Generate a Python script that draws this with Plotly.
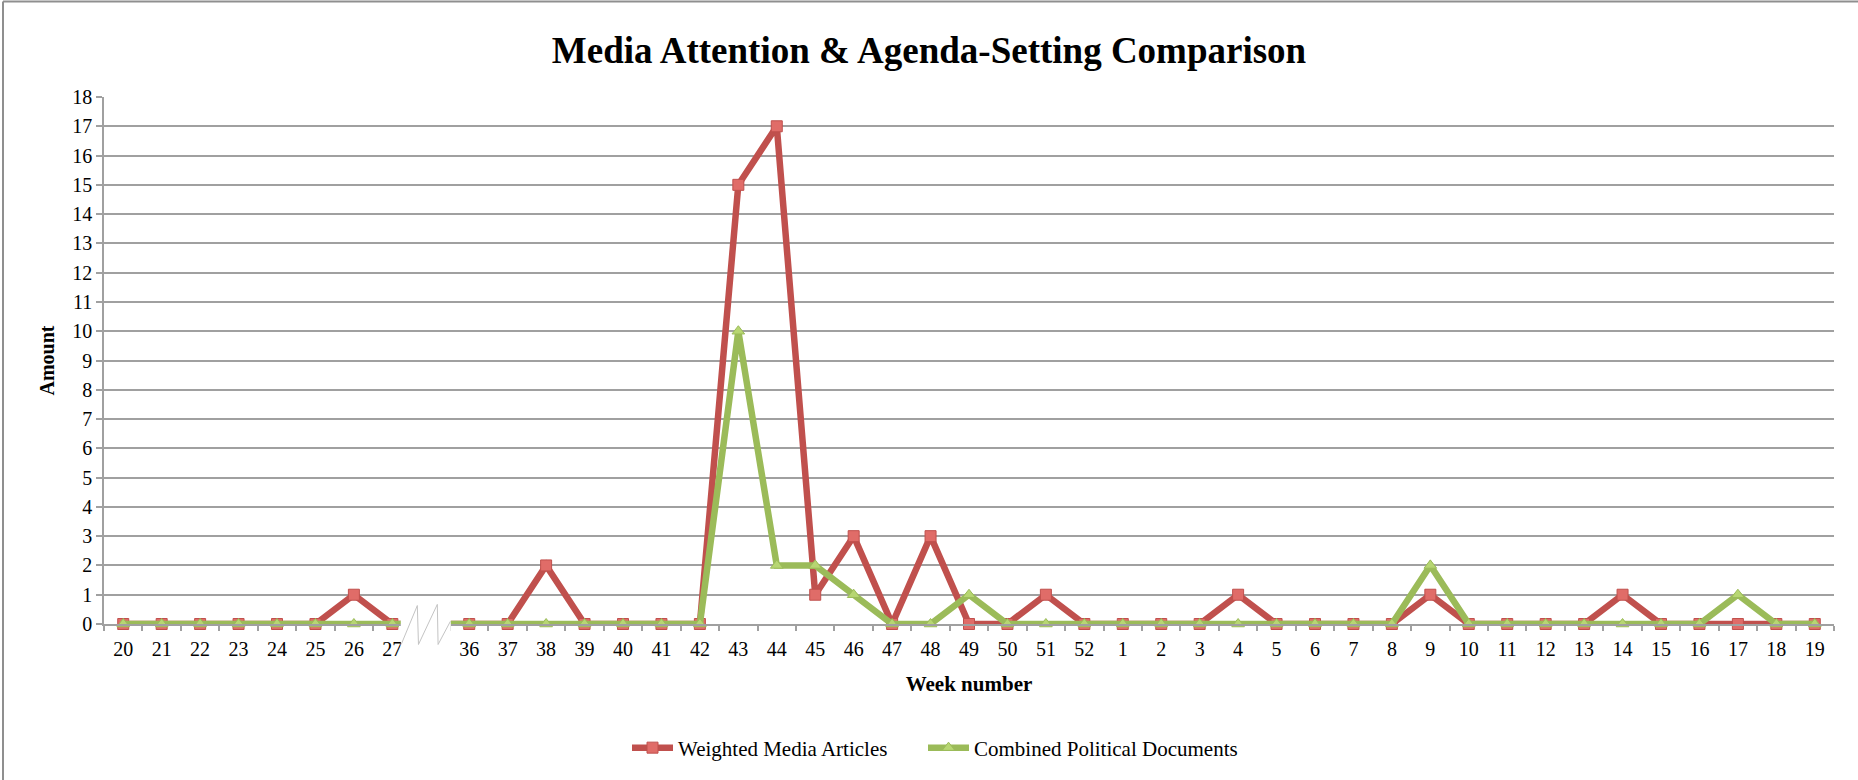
import plotly.graph_objects as go

# Week labels: weeks 20-27, a broken-axis slot, then weeks 36-52 and 1-19
weeks_early = ["20", "21", "22", "23", "24", "25", "26", "27"]
weeks_break = [" "]
weeks_late = ["36", "37", "38", "39", "40", "41", "42", "43", "44", "45",
              "46", "47", "48", "49", "50", "51", "52"]
weeks_next = ["1", "2", "3", "4", "5", "6", "7", "8", "9", "10",
              "11", "12", "13", "14", "15", "16", "17", "18", "19"]
weeks = weeks_early + weeks_break + weeks_late + weeks_next

media_early = [0, 0, 0, 0, 0, 0, 1, 0]
media_late = [0, 0, 2, 0, 0, 0, 0, 15, 17, 1, 3, 0, 3, 0, 0, 1, 0]
media_next = [0, 0, 0, 1, 0, 0, 0, 0, 1, 0, 0, 0, 0, 1, 0, 0, 0, 0, 0]

political_early = [0, 0, 0, 0, 0, 0, 0, 0]
political_late = [0, 0, 0, 0, 0, 0, 0, 10, 2, 2, 1, 0, 0, 1, 0, 0, 0]
political_next = [0, 0, 0, 0, 0, 0, 0, 0, 2, 0, 0, 0, 0, 0, 0, 0, 1, 0, 0]

media = media_early + [None] + media_late + media_next
political = political_early + [None] + political_late + political_next

W, H = 1858, 780
ML, MR, MT, MB = 104, 24, 97, 156
PW, PH = W - ML - MR, H - MT - MB
N = len(weeks)
YMAX = 18

FONT = "Liberation Serif, Times New Roman, serif"
GRID = "#a0a0a0"
RED, RED_FILL = "#c0504d", "#e06c68"
GREEN, GREEN_FILL = "#9bbb59", "#b7d672"

fig = go.Figure()
fig.add_trace(go.Scatter(
    x=weeks, y=media, name="Weighted Media Articles", legend="legend",
    mode="lines+markers", connectgaps=True, cliponaxis=False,
    line=dict(color=RED, width=6.5),
    marker=dict(symbol="square", size=11, color=RED_FILL,
                line=dict(color=RED, width=1)),
))
fig.add_trace(go.Scatter(
    x=weeks, y=political, name="Combined Political Documents",
    legend="legend2",
    mode="lines+markers", connectgaps=True, cliponaxis=False,
    line=dict(color=GREEN, width=6.5),
    marker=dict(symbol="triangle-up", size=11, color=GREEN_FILL,
                line=dict(color=GREEN, width=1)),
))


def px_x(idx):
    # category index -> paper x
    return (idx + 0.5) / N


def px_y(val):
    # value -> paper y
    return val / YMAX


def pix_x(px):
    # screen pixel -> paper x
    return (px - ML) / PW


def pix_y(py):
    # screen pixel -> paper y
    return (H - MB - py) / PH


gap = weeks.index(" ")
shapes = [
    # white patch hiding the lines across the axis break
    dict(type="rect", xref="paper", yref="paper", layer="above",
         x0=px_x(gap - 0.78), x1=px_x(gap + 0.52),
         y0=px_y(-0.8), y1=px_y(0.72),
         fillcolor="white", line=dict(width=0)),
    # zigzag break mark
    dict(type="path", xref="paper", yref="paper", layer="above",
         path="M {} {} L {} {} L {} {} L {} {} L {} {} L {} {}".format(
             px_x(gap - 0.77), px_y(-0.7),
             px_x(gap - 0.35), px_y(0.63),
             px_x(gap - 0.32), px_y(-0.7),
             px_x(gap + 0.17), px_y(0.67),
             px_x(gap + 0.19), px_y(-0.7),
             px_x(gap + 0.51), px_y(0.09)),
         line=dict(color="#c4c4c4", width=1)),
    # chart frame: left and top edges
    dict(type="line", xref="paper", yref="paper", layer="below",
         x0=pix_x(3), x1=pix_x(3), y0=pix_y(1.5), y1=pix_y(H + 5),
         line=dict(color="#8f8f8f", width=2)),
    dict(type="line", xref="paper", yref="paper", layer="below",
         x0=pix_x(3), x1=pix_x(W + 5), y0=pix_y(1.5), y1=pix_y(1.5),
         line=dict(color="#8f8f8f", width=2)),
]

legend_style = dict(orientation="h", xanchor="left",
                    y=pix_y(748), yanchor="middle", itemwidth=41,
                    font=dict(family=FONT, size=21, color="black"),
                    bgcolor="rgba(0,0,0,0)")

fig.update_layout(
    width=W, height=H,
    margin=dict(l=ML, r=MR, t=MT, b=MB),
    paper_bgcolor="white", plot_bgcolor="white",
    font=dict(family=FONT, size=20, color="black"),
    title=dict(text="<b>Media Attention & Agenda-Setting Comparison</b>",
               x=0.5, xref="container", xanchor="center",
               y=1 - 50 / H, yref="container", yanchor="middle",
               font=dict(family=FONT, size=37, color="black")),
    showlegend=True,
    legend=dict(x=pix_x(627), **legend_style),
    legend2=dict(x=pix_x(923), **legend_style),
    shapes=shapes,
)

fig.update_xaxes(
    type="category", categoryorder="array", categoryarray=weeks,
    range=[-0.5, N - 0.5],
    showgrid=False, zeroline=False,
    showline=True, linecolor=GRID, linewidth=1.5,
    ticks="outside", tickson="boundaries", ticklen=5, tickcolor=GRID,
    tickwidth=1.5, ticklabelstandoff=6,
    tickfont=dict(family=FONT, size=20, color="black"),
    title=dict(text="<b>Week number</b>", standoff=18,
               font=dict(family=FONT, size=21, color="black")),
)
fig.update_yaxes(
    range=[0, YMAX], dtick=1, tick0=0,
    showgrid=True, gridcolor=GRID, gridwidth=1.8,
    zeroline=False,
    showline=True, linecolor=GRID, linewidth=1.5,
    ticks="outside", ticklen=6, tickcolor=GRID, tickwidth=1.5,
    tickfont=dict(family=FONT, size=20, color="black"),
    title=dict(text="<b>Amount</b>", standoff=12,
               font=dict(family=FONT, size=20, color="black")),
)

fig.write_html("out.html")
